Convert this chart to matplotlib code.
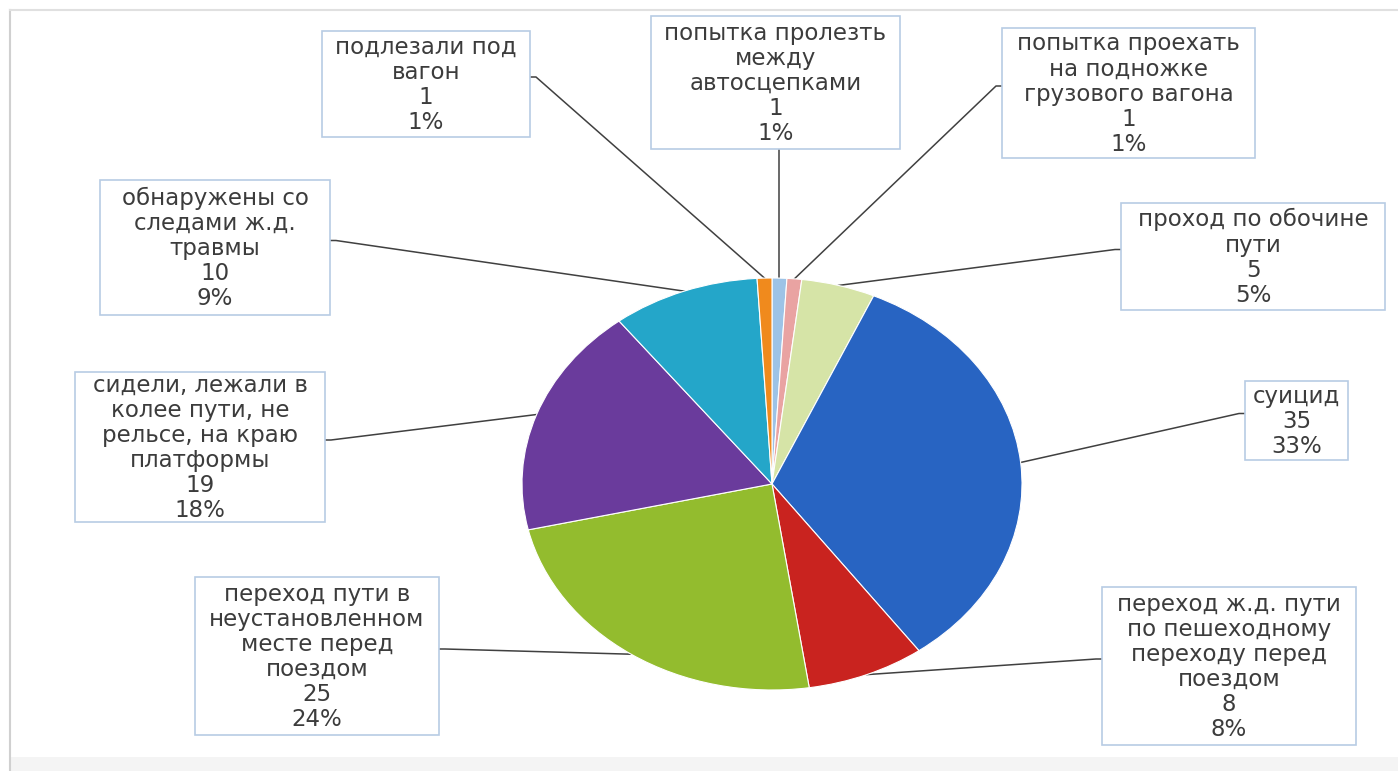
import numpy as np
import matplotlib.pyplot as plt
from matplotlib.patches import Rectangle

# данные (по часовой стрелке от 12 часов)
labels = ["попытка пролезть\nмежду\nавтосцепками",
          "попытка проехать\nна подножке\nгрузового вагона",
          "проход по обочине\nпути",
          "суицид",
          "переход ж.д. пути\nпо пешеходному\nпереходу перед\nпоездом",
          "переход пути в\nнеустановленном\nместе перед\nпоездом",
          "сидели, лежали в\nколее пути, не\nрельсе, на краю\nплатформы",
          "обнаружены со\nследами ж.д.\nтравмы",
          "подлезали под\nвагон"]
values = [1, 1, 5, 35, 8, 25, 19, 10, 1]
percents = [1, 1, 5, 33, 8, 24, 18, 9, 1]
colors = ['#9dc3e6', '#e9a3a2', '#d6e4a7', '#2864c2', '#c9231f',
          '#93bc2e', '#6a3b9c', '#24a6c9', '#f08a1d']

# рамки подписей в пикселях: x0, y0, x1, y1
boxes = [(651, 16, 900, 149), (1002, 28, 1255, 158), (1121, 203, 1385, 310),
         (1245, 381, 1348, 460), (1102, 587, 1356, 745), (195, 577, 439, 735),
         (75, 372, 325, 522), (100, 180, 330, 315), (322, 31, 530, 137)]

W, H = 1398, 771
fig = plt.figure(figsize=(W / 100, H / 100), dpi=100)

# ось-подложка в пиксельных координатах
ax = fig.add_axes([0, 0, 1, 1])
ax.set_xlim(0, W)
ax.set_ylim(H, 0)
ax.axis('off')

# рамка области диаграммы
ax.plot([10, 10], [10, 771], color='#d0d0d0', lw=1.5)
ax.plot([10, W], [10, 10], color='#e0e0e0', lw=1.5)
ax.add_patch(Rectangle((11, 757), W, 20, color='#f4f4f4', lw=0))

# круговая диаграмма (растянутая по горизонтали)
cx, cy, rx, ry = 772, 484, 250, 206
pax = fig.add_axes([(cx - rx) / W, (H - cy - ry) / H, 2 * rx / W, 2 * ry / H])
wedges, _ = pax.pie(values, colors=colors, startangle=90, counterclock=False,
                    wedgeprops=dict(edgecolor='white', linewidth=0.8))
pax.set_aspect('auto')
pax.set_xlim(-1, 1)
pax.set_ylim(-1, 1)
pax.axis('off')

to_px = pax.transData + ax.transData.inverted()

for w, lab, v, p, b in zip(wedges, labels, values, percents, boxes):
    x0, y0, x1, y1 = b
    ax.add_patch(Rectangle((x0, y0), x1 - x0, y1 - y0, facecolor='white',
                           edgecolor='#b8cce4', lw=1.2, zorder=3))
    ax.text((x0 + x1) / 2, (y0 + y1) / 2 + 1, f"{lab}\n{v}\n{p}%",
            ha='center', va='center', fontsize=16.5, color='#3c3c3c',
            linespacing=1.12, zorder=4)
    # линия-выноска от середины сектора к краю рамки
    ang = np.deg2rad((w.theta1 + w.theta2) / 2)
    ex, ey = to_px.transform((np.cos(ang), np.sin(ang)))
    my = (y0 + y1) / 2 - 7
    if ex < x0:
        xs, ys = [x0, x0 - 6, ex], [my, my, ey]
    elif ex > x1:
        xs, ys = [x1, x1 + 6, ex], [my, my, ey]
    else:
        xs, ys = [ex, ex], [y1, ey]
    ax.plot(xs, ys, color='#404040', lw=1.1, zorder=2)

fig.savefig('out.png', dpi=100)
